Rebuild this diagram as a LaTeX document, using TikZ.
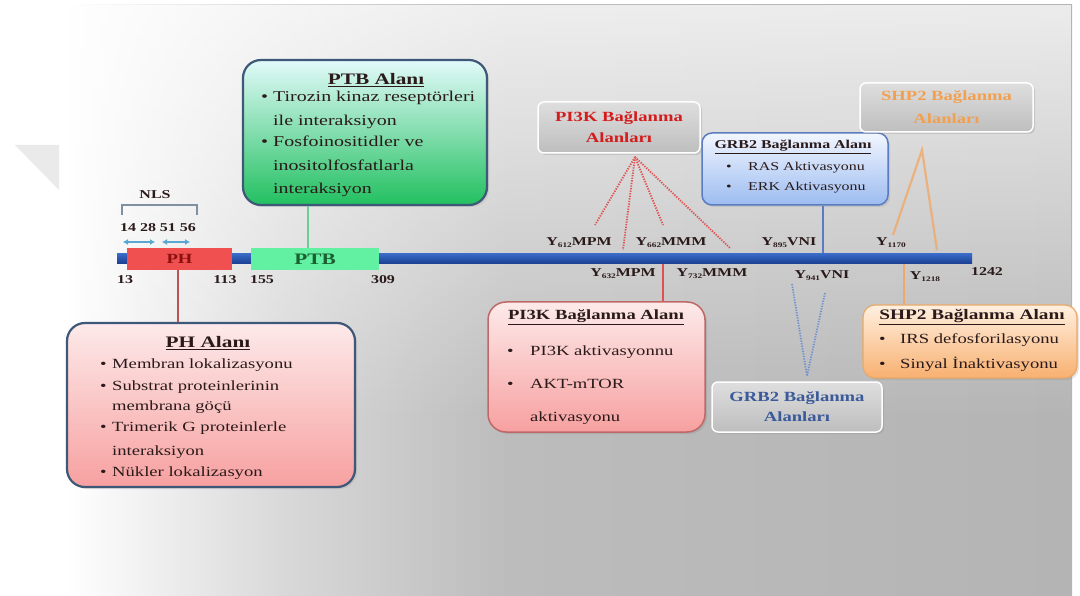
\documentclass[tikz,border=0pt]{standalone}
\usepackage{fontspec}
\setmainfont{Liberation Serif}[FakeStretch=1.33]
\usetikzlibrary{arrows.meta,shadows,fadings,calc}
\definecolor{bgA}{HTML}{D8D8D8}
\definecolor{bgB}{HTML}{BCBCBC}
\definecolor{bgC}{HTML}{B4B4B4}
\definecolor{barblueT}{HTML}{3A6CC8}
\definecolor{barblueB}{HTML}{1A3F92}
\definecolor{phred}{HTML}{F05050}
\definecolor{phtext}{HTML}{8B1010}
\definecolor{ptbgreen}{HTML}{62F0A2}
\definecolor{ptbtext}{HTML}{1A6030}
\definecolor{slate}{HTML}{3E5878}
\definecolor{pinkT}{HTML}{FDEAEA}
\definecolor{pinkB}{HTML}{F7A0A0}
\definecolor{greenT}{HTML}{E2FAFA}
\definecolor{greenB}{HTML}{22C060}
\definecolor{blueT}{HTML}{F2F6FF}
\definecolor{blueB}{HTML}{9CBCF0}
\definecolor{blueedge}{HTML}{5A7CC0}
\definecolor{pinkedge}{HTML}{C06868}
\definecolor{orangeT}{HTML}{FFF0E0}
\definecolor{orangeB}{HTML}{F8B070}
\definecolor{orangeedge}{HTML}{E8A868}
\definecolor{grayT}{HTML}{DEDEDE}
\definecolor{grayB}{HTML}{BEBEBE}
\definecolor{pired}{HTML}{D41C1C}
\definecolor{shporange}{HTML}{F2A050}
\definecolor{grbblue}{HTML}{3A5A9A}
\definecolor{nlsblue}{HTML}{5AA8D2}
\definecolor{nlsgray}{HTML}{7F90A0}
\definecolor{dotred}{HTML}{E05050}
\definecolor{dotblue}{HTML}{7090D0}
\definecolor{lineorange}{HTML}{F0A868}
\definecolor{txtdark}{HTML}{2A1A1A}
\definecolor{wmark}{HTML}{EAEAEA}
\tikzfading[name=fadedown, top color=transparent!0, bottom color=transparent!100]
\pgfdeclarehorizontalshading{bgsh}{100bp}{color(0bp)=(white); color(25bp)=(white); color(36bp)=(bgA); color(47bp)=(bgB); color(75bp)=(bgC); color(100bp)=(bgC)}
\newcommand{\bli}[1]{\makebox[#1][l]{•}}
\newcommand{\cli}[1]{\hspace*{#1}}
\newcommand{\sbs}[1]{\raisebox{-0.4ex}{\fontsize{7}{8}\selectfont #1}}
\tikzset{
  lbl/.style={font=\fontsize{12}{14}\selectfont\bfseries, text=txtdark, inner sep=0pt},
  bigbox/.style={draw=slate, line width=2.2pt, rounded corners=18pt, inner sep=0pt},
  graybox/.style={draw=white, line width=1.5pt, rounded corners=6pt, inner sep=0pt,
     top color=grayT, bottom color=grayB,
     drop shadow={opacity=0.25, shadow xshift=2pt, shadow yshift=-2pt}},
  txtline/.style={anchor=west, inner sep=0pt, text height=10pt, text depth=3pt},
  ttl/.style={inner sep=0pt, font=\bfseries},
}
\begin{document}
\begin{tikzpicture}[x=1pt, y=-1pt]
\useasboundingbox (0,0) rectangle (1080,596);
\fill[white] (0,0) rectangle (1080,596);
% watermark triangle
\fill[wmark] (15,145) -- (59,145) -- (59,190) -- cycle;
% slide background
\shade[shading=bgsh] (65,5) rectangle (1072,596);
\fill[white, path fading=fadedown, fill opacity=0.75] (65,5) rectangle (1072,420);

% ---- main bar ----
\node[inner sep=0pt, minimum width=855pt, minimum height=10pt, top color=barblueT, bottom color=barblueB] (bar) at (544.5,258.5) {};
\node[inner sep=0pt, minimum width=105pt, minimum height=22pt, fill=phred, font=\fontsize{14}{16}\selectfont\bfseries, text=phtext] (ph) at (179.5,259) {PH};
\node[inner sep=0pt, minimum width=128pt, minimum height=22pt, fill=ptbgreen, font=\fontsize{16}{18}\selectfont\bfseries, text=ptbtext] (ptb) at (315,259) {PTB};

% ---- position labels ----
\node[lbl] (n13) at (125,280) {13};
\node[lbl] (n113) at (225,280) {113};
\node[lbl] (n155) at (262,280) {155};
\node[lbl] (n309) at (383,280) {309};
\node[lbl] (n1242) at (987,272) {1242};

% ---- NLS ----
\node[lbl] (nls) at (155,195) {NLS};
\node[lbl] (nlsnum) at (158,228) {14 28 51 56};
\coordinate (b1) at (122,215); \coordinate (b2) at (197,215);
\draw[nlsgray, line width=1.2pt] (b1) -- ($(b1)+(0,-10)$) -- ($(b2)+(0,-10)$) -- (b2);
\coordinate (a1) at (123,242); \coordinate (a2) at (155,242);
\coordinate (a3) at (162,242); \coordinate (a4) at (190,242);
\draw[nlsblue, line width=1.8pt, {Latex[length=5pt,width=6pt]}-{Latex[length=5pt,width=6pt]}] (a1) -- (a2);
\draw[nlsblue, line width=1.8pt, {Latex[length=5pt,width=6pt]}-{Latex[length=5pt,width=6pt]}] (a3) -- (a4);

% ---- Y labels ----
\node[lbl] (y612) at (579,243) {Y\sbs{612}MPM};
\node[lbl] (y662) at (671,243) {Y\sbs{662}MMM};
\node[lbl] (y895) at (789,243) {Y\sbs{895}VNI};
\node[lbl] (y1170) at (891,243) {Y\sbs{1170}};
\node[lbl] (y632) at (623,274) {Y\sbs{632}MPM};
\node[lbl] (y732) at (712,274) {Y\sbs{732}MMM};
\node[lbl] (y941) at (822,276) {Y\sbs{941}VNI};
\node[lbl] (y1218) at (925,277) {Y\sbs{1218}};

% ---- PH Alani box ----
\node[bigbox, top color=pinkT, bottom color=pinkB, minimum width=288pt, minimum height=164pt,
  drop shadow={opacity=0.2, shadow xshift=2pt, shadow yshift=-2pt}] (phA) at (211,405) {};
\node[ttl, font=\fontsize{16}{18}\selectfont\bfseries, text=txtdark] (phT) at (208,343) {\underline{PH Alanı}};
\foreach \yy/\tx [count=\i] in {365/{\bli{12pt}Membran lokalizasyonu},387/{\bli{12pt}Substrat proteinlerinin},407/{\cli{12pt}membrana göçü},428/{\bli{12pt}Trimerik G proteinlerle},452/{\cli{12pt}interaksiyon},473/{\bli{12pt}Nükler lokalizasyon}}
  \node[txtline, font=\fontsize{14}{16}\selectfont, text=txtdark] (phL\i) at (100,\yy) {\tx};

% ---- PTB Alani box ----
\node[bigbox, top color=greenT, bottom color=greenB, minimum width=244pt, minimum height=145pt,
  drop shadow={opacity=0.2, shadow xshift=2pt, shadow yshift=-2pt}] (ptbA) at (365,132.5) {};
\node[ttl, font=\fontsize{16}{18}\selectfont\bfseries, text=txtdark] (ptbT) at (376,80) {\underline{PTB Alanı}};
\foreach \yy/\tx [count=\i] in {98/{\bli{12pt}Tirozin kinaz reseptörleri},122/{\cli{12pt}ile interaksiyon},143/{\bli{12pt}Fosfoinositidler ve},167/{\cli{12pt}inositolfosfatlarla},190/{\cli{12pt}interaksiyon}}
  \node[txtline, font=\fontsize{15}{17}\selectfont, text=txtdark] (ptbL\i) at (261,\yy) {\tx};

% ---- GRB2 top box ----
\node[draw=blueedge, line width=1.5pt, rounded corners=10pt, inner sep=0pt, top color=blueT, bottom color=blueB,
  minimum width=186pt, minimum height=72pt, drop shadow={opacity=0.2, shadow xshift=2pt, shadow yshift=-2pt}] (grbA) at (795,169) {};
\node[ttl, font=\fontsize{12}{14}\selectfont\bfseries, text=txtdark] (grbT) at (793,147) {\underline{GRB2 Bağlanma Alanı}};
\foreach \yy/\tx [count=\i] in {167/{\bli{22pt}RAS Aktivasyonu},187/{\bli{22pt}ERK Aktivasyonu}}
  \node[txtline, font=\fontsize{12}{14}\selectfont, text=txtdark] (grbL\i) at (726,\yy) {\tx};

% ---- PI3K bottom box ----
\node[draw=pinkedge, line width=1.5pt, rounded corners=18pt, inner sep=0pt, top color=pinkT, bottom color=pinkB,
  minimum width=217pt, minimum height=130pt, drop shadow={opacity=0.25, shadow xshift=2pt, shadow yshift=-2pt}] (piA) at (596.5,367) {};
\node[ttl, font=\fontsize{14}{16}\selectfont\bfseries, text=txtdark] (piT) at (596,317) {\underline{PI3K Bağlanma Alanı}};
\foreach \yy/\tx [count=\i] in {352/{\bli{23pt}PI3K aktivasyonnu},385/{\bli{23pt}AKT-mTOR},418/{\cli{23pt}aktivasyonu}}
  \node[txtline, font=\fontsize{14}{16}\selectfont, text=txtdark] (piL\i) at (507,\yy) {\tx};

% ---- SHP2 bottom box ----
\node[draw=orangeedge, line width=1.2pt, rounded corners=12pt, inner sep=0pt, top color=orangeT, bottom color=orangeB,
  minimum width=214pt, minimum height=73pt, drop shadow={opacity=0.2, shadow xshift=2pt, shadow yshift=-2pt}] (shpA) at (970,341.5) {};
\node[ttl, font=\fontsize{14.5}{16}\selectfont\bfseries, text=txtdark] (shpT) at (972,317) {\underline{SHP2 Bağlanma Alanı}};
\foreach \yy/\tx [count=\i] in {340/{\bli{21pt}IRS defosforilasyonu},365/{\bli{21pt}Sinyal İnaktivasyonu}}
  \node[txtline, font=\fontsize{14}{16}\selectfont, text=txtdark] (shpL\i) at (879,\yy) {\tx};

% ---- gray label boxes ----
\node[graybox, minimum width=162pt, minimum height=51pt, align=center, font=\fontsize{14}{21}\selectfont\bfseries, text=pired] (piG) at (619,127.5) {PI3K Bağlanma\\Alanları};
\node[graybox, minimum width=173pt, minimum height=49pt, align=center, font=\fontsize{14}{23}\selectfont\bfseries, text=shporange] (shpG) at (946.5,107.5) {SHP2 Bağlanma\\Alanları};
\node[graybox, minimum width=170pt, minimum height=50pt, align=center, font=\fontsize{14}{20}\selectfont\bfseries, text=grbblue] (grbG) at (797,407) {GRB2 Bağlanma\\Alanları};

% ---- connectors ----
\draw[dotred!80!black!90, line width=2pt] (ph.south -| 178,0) -- (phA.north -| 178,0);
\draw[ptbgreen!70!gray, line width=2pt] (ptbA.south -| 308,0) -- (ptb.north -| 308,0);
\draw[dotred, line width=2pt] (bar.south -| 663,0) -- (piA.north -| 663,0);
\draw[blueedge, line width=2pt] (grbA.south -| 823,0) -- (bar.north -| 823,0);
\draw[lineorange, line width=2pt] (bar.south -| 904,0) -- (shpA.north -| 904,0);

% PI3K fan
\coordinate (pf) at (635,157);
\coordinate (pe1) at (595,225); \coordinate (pe2) at (623,250);
\coordinate (pe3) at (663,225); \coordinate (pe4) at (730,248);
\foreach \e in {pe1,pe2,pe3,pe4}
  \draw[dotred, line width=1.8pt, dash pattern=on 1.3pt off 1.3pt] (pf) -- (\e);

% GRB2 V
\coordinate (ga) at (807,376);
\coordinate (g1) at (792,284); \coordinate (g2) at (825,293);
\draw[dotblue, line width=1.8pt, dash pattern=on 1.3pt off 1.3pt] (g1) -- (ga) -- (g2);

% SHP2 lines
\coordinate (sa) at (922,150);
\coordinate (s1) at (893,235); \coordinate (s2) at (937,250);
\draw[lineorange, line width=2.2pt, opacity=0.8] (s1) -- (sa) -- (s2);
\end{tikzpicture}
\end{document}
